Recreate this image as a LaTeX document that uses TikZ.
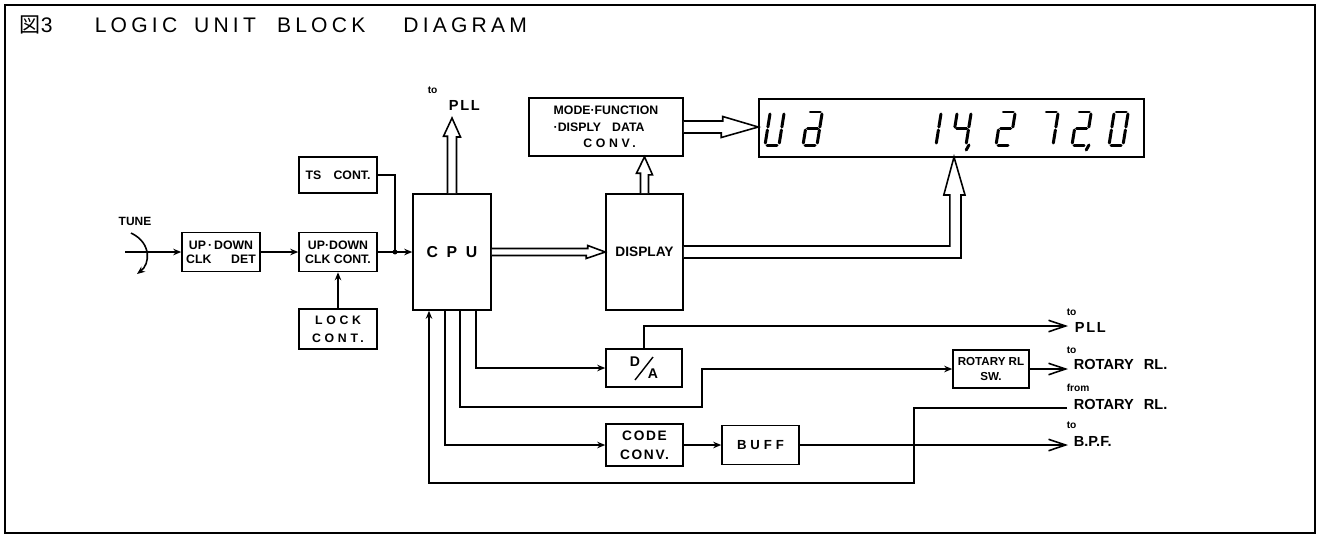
\documentclass[tikz,border=0pt]{standalone}
\usepackage{fontspec}
\usepackage{graphicx}
\setmainfont{Liberation Sans}
\newfontfamily\cjkfont{Noto Sans CJK JP}
\newfontfamily\spaced[LetterSpace=30]{Liberation Sans}
\newfontfamily\lightspaced[LetterSpace=12]{Liberation Sans}
\newfontfamily\titlefont[LetterSpace=20]{Liberation Sans}
\usetikzlibrary{arrows.meta, calc, positioning}

\begin{document}
\begin{tikzpicture}[x=0.02cm, y=-0.02cm, line width=0.9pt,
	blk/.style={draw, line width=0.9pt, minimum width=1.56cm, minimum height=0.78cm,
		inner sep=1pt, align=center, font=\fontsize{7}{8.2}\selectfont\bfseries},
	arr/.style={-{Stealth[length=1.6mm, width=1.3mm]}},
	outarr/.style={-{Straight Barb[length=3.4mm, width=2.3mm]}},
	bus/.style={draw, line width=0.9pt, fill=white, line join=miter},
	seg/.style={line width=1.7pt, line cap=round},
	lbl/.style={anchor=west, inner sep=0pt, font=\fontsize{8.3}{10}\selectfont\bfseries},
	tolbl/.style={anchor=west, inner sep=0pt, font=\fontsize{5.8}{6}\selectfont\bfseries}]

	\useasboundingbox (0,0) rectangle (1319,535);
	\draw[line width=1.4pt] (5,5) rectangle (1315,533);
	\node[anchor=west, inner sep=0pt, font=\fontsize{12}{14}\selectfont] (title) at (19,25)
		{{\cjkfont 図}3\hspace{2em}{\titlefont LOGIC\hspace{0.8em}UNIT\hspace{1em}BLOCK\hspace{1.8em}DIAGRAM}};

	% blocks
	\node[blk] (det) at (221,252) {UP\,·\,DOWN\\CLK\hspace{1.6em}DET};
	\node[blk] (cont) at (338,252) {UP·DOWN\\CLK CONT.};
	\node[blk, minimum height=0.72cm] (ts) at (338,175) {TS\hspace{1em}CONT.};
	\node[blk, minimum height=0.8cm, font=\spaced\fontsize{7}{10}\selectfont\bfseries] (lock) at (338,329) {LOCK\\CONT.};
	\node[blk, minimum height=2.32cm, font=\fontsize{9}{11}\selectfont\bfseries] (cpu) at (452,252)
		{C\hspace{0.55em}P\hspace{0.55em}U};
	\node[blk, minimum width=1.54cm, minimum height=2.32cm, font=\fontsize{7.8}{9}\selectfont\bfseries] (disp) at (644.5,252) {DISPLAY};
	\node[blk, minimum width=3.08cm, minimum height=1.16cm, align=left, font=\fontsize{7}{9.5}\selectfont\bfseries] (mode) at (606,127)
		{MODE·FUNCTION\\·DISPLY\hspace{0.9em}DATA\\\hspace*{2.4em}{\spaced CONV.}};
	\node[draw, line width=0.9pt, minimum width=7.7cm, minimum height=1.16cm] (panel) at (951.5,128) {};
	\node[blk, minimum width=1.52cm, minimum height=0.76cm, font=\fontsize{8}{9}\selectfont\bfseries] (da) at (644,368)
		{\raisebox{0.42em}{D}\hspace{0.55em}\raisebox{-0.42em}{A}};
	\draw[line width=0.8pt] ($(da.center)+(-9,12)$) -- ($(da.center)+(9,-11)$);
	\node[blk, minimum width=1.52cm, minimum height=0.76cm, font=\fontsize{6.6}{8}\selectfont\bfseries] (rsw) at (991,369) {ROTARY RL\\SW.};
	\node[blk, minimum width=1.54cm, minimum height=0.84cm, font=\lightspaced\fontsize{7.8}{11}\selectfont\bfseries] (code) at (644.5,445) {CODE\\CONV.};
	\node[blk, minimum width=1.54cm, font=\spaced\fontsize{7.5}{9}\selectfont\bfseries] (buff) at (760.5,445) {BUFF};

	% display digits
	\foreach \px/\segs/\wc in {765/{b,c,d,e,f}/0, 803/{a,b,c,d,e,g}/0, 922/{b,c}/0,
			952/{f,g,b,c}/1, 996/{a,b,g,e,d}/0, 1039/{a,b,c}/0, 1072/{a,b,g,e,d}/1,
			1109/{a,b,c,d,e,f}/0}{
		\begin{scope}[shift={(\px,145)}, xslant=0.16]
			\path (2,-33) coordinate (a1) (12,-33) coordinate (a2)
				(14,-31) coordinate (b1) (14,-18) coordinate (b2)
				(14,-15) coordinate (c1) (14,-2) coordinate (c2)
				(2,0) coordinate (d1) (12,0) coordinate (d2)
				(0,-2) coordinate (e1) (0,-15) coordinate (e2)
				(0,-18) coordinate (f1) (0,-31) coordinate (f2)
				(2,-16.5) coordinate (g1) (12,-16.5) coordinate (g2);
			\foreach \s in \segs {\draw[seg] (\s1) -- (\s2);}
			\ifnum\wc=1 \draw[seg] (17,0) -- (15,5); \fi
		\end{scope}
	}

	% tune input
	\node[font=\fontsize{6.8}{8}\selectfont\bfseries] (tune) at (135,221) {TUNE};
	\coordinate (tunein) at (125,252);
	\coordinate (knob) at (131,233);
	\coordinate (knobend) at (137,274);
	\draw[arr] (tunein) -- (det);
	\draw[arr] (knob) .. controls (152,243) and (150,264) .. (knobend);
	\draw[arr] (det) -- (cont);
	\draw[arr] (lock) -- (cont);
	\coordinate (jn) at (395,252);
	\draw[arr] (cont.east) -- (cpu.west);
	\draw (ts.east) -| (jn);
	\fill (jn) circle (1.4pt);

	% bus arrows
	\coordinate (pllup) at (452,118);
	\draw[bus] ($(cpu.north)+(-4.5,0)$) -- ++(0,-57) -- ++(-4,0) -- (pllup)
		-- ++(8.5,19) -- ++(-4,0) -- ($(cpu.north)+(4.5,0)$);
	\node[tolbl] (to0) at (427,90) {to};
	\node[lbl, font=\lightspaced\fontsize{8.3}{10}\selectfont\bfseries] (pll0) at (448,105) {PLL};
	\draw[bus] ($(cpu.east)+(0,-3.5)$) -- ++(96,0) -- ++(0,-3) -- (disp.west)
		-- ++(-19,6.5) -- ++(0,-3) -- ($(cpu.east)+(0,3.5)$);
	\draw[bus] ($(disp.north)+(-4,0)$) -- ++(0,-20) -- ++(-4,0) -- (disp.north |- mode.south)
		-- ++(8,18) -- ++(-4,0) -- ($(disp.north)+(4,0)$);
	\draw[bus] ($(mode.east)+(0,-6)$) -- ++(39,0) -- ++(0,-4.5) -- (mode.east -| panel.west)
		-- ++(-37,10.5) -- ++(0,-4.5) -- ($(mode.east)+(0,6)$);
	\coordinate (dtip) at (954,157);
	\draw[bus] ($(disp.east)+(0,-6)$) -- ++(266,0) -- ++(0,-51) -- ++(-6,0) -- (dtip)
		-- ++(11,38) -- ++(-4,0) -- ++(0,63) -- ($(disp.east)+(0,6)$);

	% lower outputs
	\coordinate (pllout) at (1068,326);
	\coordinate (fromrot) at (1067,408);
	\coordinate (fbturn) at (914,483);
	\draw[arr] ($(cpu.south)+(24,0)$) |- (da.west);
	\draw[arr] ($(cpu.south)+(8,0)$) |- ++(242,96) |- (rsw.west);
	\draw[arr] ($(cpu.south)+(-7,0)$) |- (code.west);
	\draw[arr] (fromrot) -| (fbturn) -| ($(cpu.south)+(-23,0)$);
	\draw[outarr] (da.north) |- (pllout);
	\draw[outarr] (rsw.east) -- (rsw.east -| pllout);
	\draw[arr] (code) -- (buff);
	\draw[outarr] (buff.east) -- (buff.east -| pllout);

	\node[tolbl] (to1) at (1066,312) {to};
	\node[lbl, font=\lightspaced\fontsize{8.3}{10}\selectfont\bfseries] (pll1) at (1074,327) {PLL};
	\node[tolbl] (to2) at (1066,350) {to};
	\node[lbl] (rot1) at (1073,364) {ROTARY\hspace{0.7em}RL.};
	\node[tolbl] (from) at (1066,388) {from};
	\node[lbl] (rot2) at (1073,404) {ROTARY\hspace{0.7em}RL.};
	\node[tolbl] (to3) at (1066,425) {to};
	\node[lbl] (bpf) at (1073,441) {B.P.F.};
\end{tikzpicture}
\end{document}
